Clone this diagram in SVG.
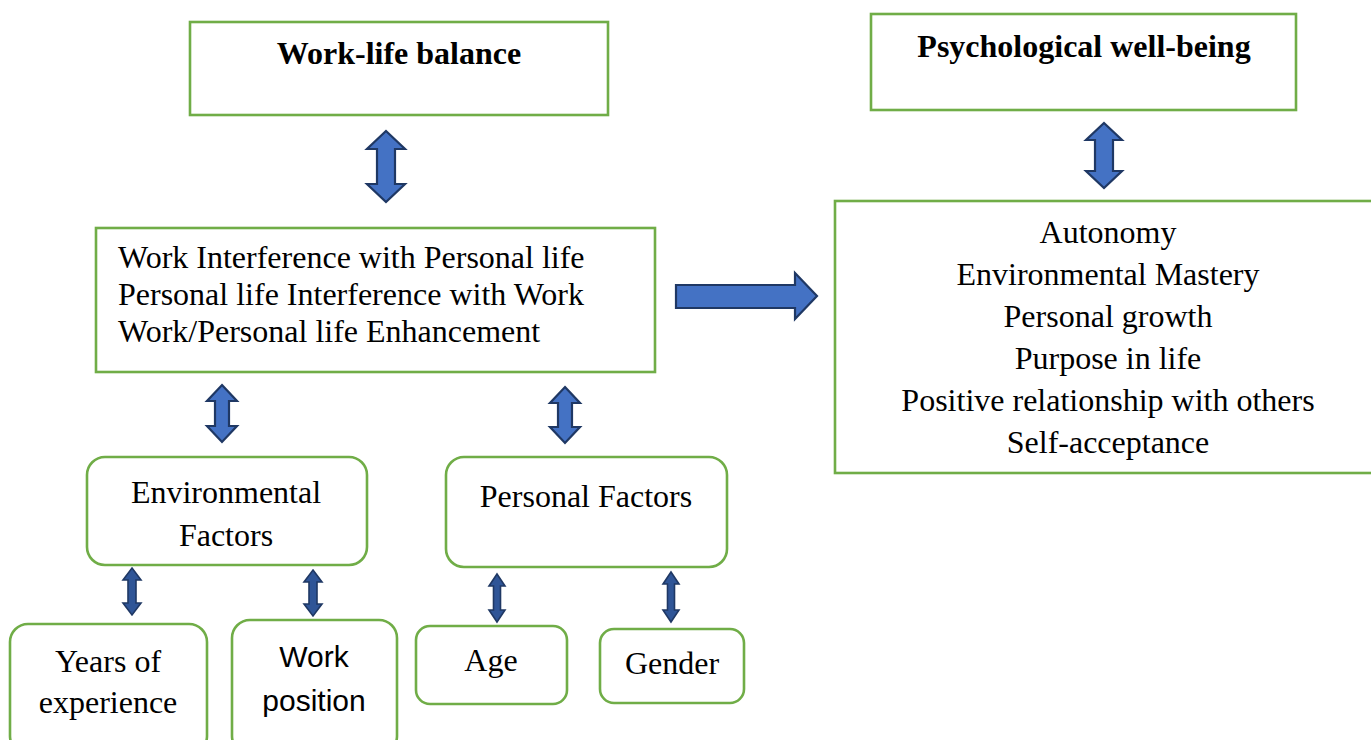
<svg xmlns="http://www.w3.org/2000/svg" width="1371" height="740" viewBox="0 0 1371 740">
  <style>
    .box { fill: #ffffff; stroke: #70AD47; stroke-width: 2.6; }
    .serif { font-family: "Liberation Serif", "Times New Roman", serif; fill: #000000; }
    .sans { font-family: "Liberation Sans", Arial, sans-serif; fill: #000000; }
    .title { font-size: 32px; font-weight: bold; text-anchor: middle; }
    .body { font-size: 32px; }
    .mid { text-anchor: middle; }
    .big { fill: #4472C4; stroke: #1F3864; stroke-width: 2.2; stroke-linejoin: miter; }
    .thin { fill: #2F5597; stroke: #1F3864; stroke-width: 1.6; stroke-linejoin: miter; }
  </style>

  <rect width="1371" height="740" fill="#ffffff"/>

  <!-- connectors -->
  <g id="connectors">
    <!-- Work-life balance <-> dimensions -->
    <polygon class="big" points="386,131 405,149 395,149 395,184 405,184 386,202 367,184 377,184 377,149 367,149"/>
    <!-- Psychological well-being <-> dimensions -->
    <polygon class="big" points="1104,123 1122,140 1113,140 1113,171 1122,171 1104,188 1086,171 1095,171 1095,140 1086,140"/>
    <!-- dimensions -> well-being -->
    <polygon class="big" points="676,285 795,285 795,273 817,296 795,319 795,308 676,308"/>
    <!-- dimensions <-> environmental factors -->
    <polygon class="big" points="222,385 237,401 229,401 229,426 237,426 222,442 207,426 215,426 215,401 207,401"/>
    <!-- dimensions <-> personal factors -->
    <polygon class="big" points="565,387 580,403 572,403 572,427 580,427 565,443 550,427 558,427 558,403 550,403"/>
    <!-- factors <-> sub-factors -->
    <polygon class="thin" points="132,568 141,580 136,580 136,603 141,603 132,615 123,603 128,603 128,580 123,580"/>
    <polygon class="thin" points="313,570 322,582 317,582 317,604 322,604 313,616 304,604 309,604 309,582 304,582"/>
    <polygon class="thin" points="497,574 505,586 500.5,586 500.5,610 505,610 497,622 489,610 493.5,610 493.5,586 489,586"/>
    <polygon class="thin" points="671,572 679,584 674.5,584 674.5,610 679,610 671,622 663,610 667.5,610 667.5,584 663,584"/>
  </g>

  <g id="work-life-balance">
    <rect class="box" x="190" y="22" width="418" height="93"/>
    <text class="serif title" x="399" y="64">Work-life balance</text>
  </g>

  <g id="psychological-well-being">
    <rect class="box" x="871" y="14" width="425" height="96"/>
    <text class="serif title" x="1084" y="57">Psychological well-being</text>
  </g>

  <g id="wlb-dimensions">
    <rect class="box" x="96" y="228" width="559" height="144"/>
    <text class="serif body" x="118" y="268">Work Interference with Personal life</text>
    <text class="serif body" x="118" y="305">Personal life Interference with Work</text>
    <text class="serif body" x="118" y="342">Work/Personal life Enhancement</text>
  </g>

  <g id="pwb-dimensions">
    <rect class="box" x="835" y="201" width="540" height="272"/>
    <text class="serif body mid" x="1108" y="243">Autonomy</text>
    <text class="serif body mid" x="1108" y="285">Environmental Mastery</text>
    <text class="serif body mid" x="1108" y="327">Personal growth</text>
    <text class="serif body mid" x="1108" y="369">Purpose in life</text>
    <text class="serif body mid" x="1108" y="411">Positive relationship with others</text>
    <text class="serif body mid" x="1108" y="453">Self-acceptance</text>
  </g>

  <g id="environmental-factors">
    <rect class="box" x="87" y="457" width="280" height="108" rx="18"/>
    <text class="serif body mid" x="226" y="503">Environmental</text>
    <text class="serif body mid" x="226" y="546">Factors</text>
  </g>

  <g id="personal-factors">
    <rect class="box" x="446" y="457" width="281" height="110" rx="18"/>
    <text class="serif body mid" x="586" y="507">Personal Factors</text>
  </g>

  <g id="years-of-experience">
    <rect class="box" x="10" y="624" width="197" height="130" rx="18"/>
    <text class="serif body mid" x="108" y="672">Years of</text>
    <text class="serif body mid" x="108" y="713">experience</text>
  </g>

  <g id="work-position">
    <rect class="box" x="232" y="620" width="165" height="134" rx="18"/>
    <text class="sans mid" font-size="30" x="314" y="667">Work</text>
    <text class="sans mid" font-size="30" x="314" y="711">position</text>
  </g>

  <g id="age">
    <rect class="box" x="416" y="626" width="151" height="78" rx="14"/>
    <text class="serif body mid" x="491" y="671">Age</text>
  </g>

  <g id="gender">
    <rect class="box" x="600" y="629" width="144" height="74" rx="14"/>
    <text class="serif body mid" x="672" y="674">Gender</text>
  </g>
</svg>
